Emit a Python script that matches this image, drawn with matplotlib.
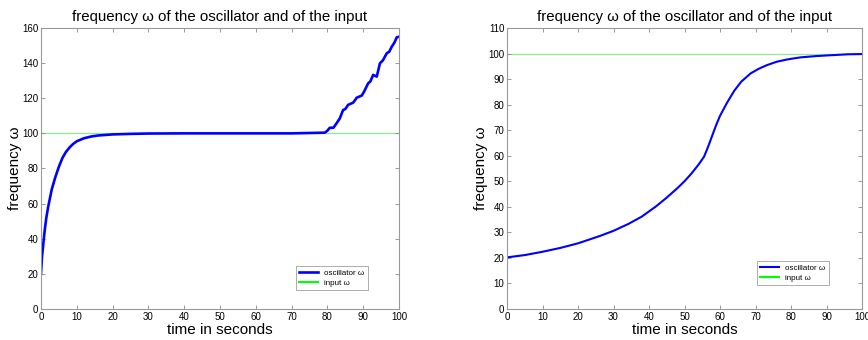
import matplotlib
matplotlib.use("Agg")
import matplotlib.pyplot as plt

plt.rcParams['font.family'] = ['Liberation Sans', 'DejaVu Sans']

# left panel: oscillator frequency
t_left = [0, 0.3, 0.7, 1, 1.5, 2, 2.5, 3, 4, 5, 6, 7, 8, 9, 10, 12, 14, 16, 20, 25, 30,
          40, 50, 60, 70, 79.3, 80.0, 80.7, 81.7, 82.5, 83.5, 84.4, 85.0, 85.8, 87.2, 87.6,
          88.2, 89.6, 90.2, 91.4, 92.0, 92.8, 93.8, 94.7, 95.5, 96.6, 97.3, 98.0, 98.7,
          99.4, 100]
w_left = [20, 30, 38, 44, 52, 58, 63, 68, 75, 81, 86, 89.5, 92, 94, 95.5, 97.2, 98.2, 98.8,
          99.4, 99.7, 99.9, 100, 100, 100, 100, 100.4, 101.5, 103.2, 103.2, 105.5, 108.6,
          113.3, 113.8, 116.2, 117.5, 118.5, 120.3, 121.5, 123.5, 128.5, 129.5, 133.3,
          132.3, 139.9, 141.5, 145.6, 146.5, 149.4, 151.5, 154.7, 155]

# right panel
t_right = [0, 5, 10, 15, 20, 26.2, 30, 34.2, 38, 42, 45, 48, 50, 52, 54, 55.5, 56.3, 57,
           58, 59, 60, 62, 64, 66, 68.6, 71, 73.3, 76, 79, 82.7, 87, 92.1, 96, 100]
w_right = [20.2, 21.1, 22.4, 23.9, 25.7, 28.6, 30.6, 33.3, 36.2, 40.2, 43.6, 47.3, 50,
           53.1, 56.6, 59.6, 62.3, 64.8, 68.6, 72.3, 75.6, 80.8, 85.4, 89, 92.2, 94.1,
           95.5, 96.8, 97.7, 98.5, 99, 99.4, 99.7, 99.8]

t_input = [0, 100]
w_input = [100, 100]

fig = plt.figure(figsize=(8.68, 3.40), dpi=100)
ax1 = fig.add_axes([0.0472, 0.0912, 0.4124, 0.8265])
ax2 = fig.add_axes([0.5841, 0.0912, 0.4090, 0.8265])

panels = [(ax1, t_left, w_left, 160, 1.9, (0.712, 0.068)),
          (ax2, t_right, w_right, 110, 1.5, (0.704, 0.085))]

for ax, t, w, ymax, lw, loc in panels:
    ax.plot(t_input, w_input, color='#90e890', lw=0.9, zorder=1)
    ax.plot(t, w, color='#0000ff', lw=lw, label='oscillator ω', zorder=2)
    ax.plot([], [], color='#00ff00', lw=1.5, label='input ω')
    ax.set_xlim(0, 100)
    ax.set_ylim(0, ymax)
    ax.set_xticks(range(0, 101, 10))
    ax.tick_params(direction='in', labelsize=7, length=3, width=0.6,
                   top=True, right=True, color='#888888', pad=2)
    for s in ax.spines.values():
        s.set_color('#999999')
        s.set_linewidth(0.8)
    ax.set_title('frequency ω of the oscillator and of the input', fontsize=10.8, pad=5)
    ax.set_xlabel('time in seconds', fontsize=11, labelpad=1)
    ax.set_ylabel('frequency ω', fontsize=11, labelpad=0)
    leg = ax.legend(loc='lower left', bbox_to_anchor=loc, fontsize=5.8, frameon=True,
                    fancybox=False, edgecolor='#888888', handlelength=2.3,
                    borderpad=0.4, labelspacing=0.3, borderaxespad=0)
    leg.get_frame().set_linewidth(0.6)

ax2.set_yticks(range(0, 111, 10))
fig.savefig('out.png', dpi=100)
